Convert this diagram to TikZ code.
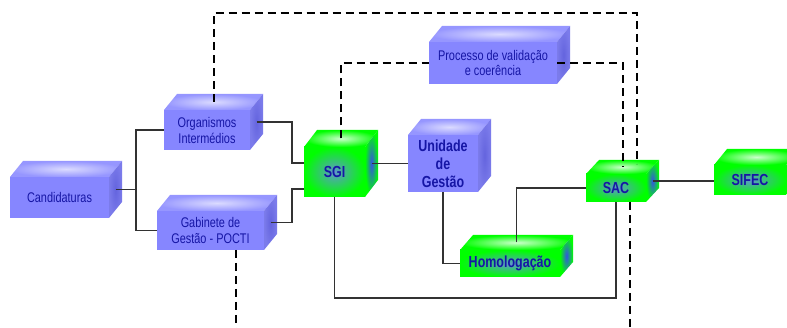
\documentclass[tikz,border=0pt]{standalone}
\usepackage{fontspec}
\setmainfont{Liberation Sans}[FakeStretch=0.78]
\usetikzlibrary{calc}

\definecolor{lav}{RGB}{134,134,255}
\definecolor{lavtop}{RGB}{150,150,255}
\definecolor{lavside}{RGB}{100,100,222}
\definecolor{grn}{RGB}{0,255,0}
\definecolor{grncore}{RGB}{95,150,205}
\definecolor{ink}{RGB}{22,22,165}
\definecolor{wire}{RGB}{50,50,50}

\tikzset{
  face front/.style={outer sep=0pt, inner sep=0pt, align=center, text=ink},
  lav front/.style={face front, fill=lav},
  grn front/.style={face front, inner color=grncore, outer color=grn},
  lav top/.style={inner color=white!70!lav, outer color=lavtop},
  grn top/.style={inner color=white!80!grn, outer color=grn},
  lav side/.style={inner color=lavside, outer color=lav!92!black},
  grn side/.style={inner color=blue!45!grncore, outer color=grn},
  regtext/.style={font=\fontsize{14}{16}\selectfont},
  boldtext/.style={font=\fontsize{16}{18}\selectfont\bfseries},
  conn/.style={draw=wire, line width=1.2pt},
  dashln/.style={draw=black, line width=2pt, dash pattern=on 8pt off 5pt},
}

% Box with a front face, a top face and a right face.
% #1 name, #2 palette, #3 font style, #4 x, #5 y, #6 width, #7 height, #8 depth, #9 text
\newcommand\cuboid[9]{%
  \node[#2 front, #3, minimum width=#6pt, minimum height=#7pt] (#1) at (#4,#5) {#9};
  \path[#2 top] (#1.north west) -- ++(13pt,#8pt) -- ([shift={(13pt,#8pt)}]#1.north east)
     -- (#1.north east) -- cycle;
  \path[#2 side] (#1.north east) -- ++(13pt,#8pt) -- ([shift={(13pt,#8pt)}]#1.south east)
     -- (#1.south east) -- cycle;
  \coordinate (#1-top) at ([shift={(6.5pt,0.5*#8pt)}]#1.north);
  \coordinate (#1-side) at ([shift={(6.5pt,0.5*#8pt)}]#1.east);
}

\begin{document}
\begin{tikzpicture}[x=1pt, y=-1pt]
\useasboundingbox (0,0) rectangle (787,328);
\clip (0,0) rectangle (787,328);

% boxes
\cuboid{cand}{lav}{regtext}{59.5}{197.5}{99}{41}{16}{Candidaturas}
\cuboid{org}{lav}{regtext}{207}{130}{86}{40}{16}{Organismos\\Intermédios}
\cuboid{gab}{lav}{regtext}{210.5}{230.5}{107}{39}{16}{Gabinete de\\Gestão - POCTI}
\cuboid{sgi}{grn}{boldtext}{334.5}{172}{61}{50}{17}{SGI}
\cuboid{ug}{lav}{boldtext}{443}{163.5}{70}{57}{16}{Unidade\\de\\Gestão}
\cuboid{proc}{lav}{regtext}{493}{63}{128}{42}{16}{Processo de validação\\e coerência}
\cuboid{hom}{grn}{boldtext}{510}{263.5}{100}{27}{15}{Homologação}
\cuboid{sac}{grn}{boldtext}{616}{188}{60}{28}{14}{SAC}
\cuboid{sifec}{grn}{boldtext}{750}{180}{72}{30}{16}{SIFEC}

% routing helpers
\coordinate (jx) at (136,180);
\coordinate (sgi-a) at ([yshift=9pt]sgi.west);
\coordinate (sgi-b) at ([yshift=-17pt]sgi.west);
\coordinate (lowrun) at (0,298);
\coordinate (topy) at (0,13);
\coordinate (bottomy) at (0,335);
\coordinate (sacA) at ([shift={(14pt,3pt)}]sac-top);
\coordinate (sacB) at ([xshift=14pt]sac.south);
\coordinate (gabB) at ([xshift=25.5pt]gab.south);

% solid connectors
\draw[conn] (cand-side) -- (cand-side -| jx);
\draw[conn] (org.west) -| (jx) |- (gab.west);
\draw[conn] (org-side) -| ([xshift=-12pt]sgi-a) -- (sgi-a);
\draw[conn] (gab-side) -| ([xshift=-12pt]sgi-b) -- (sgi-b);
\draw[conn] (sgi-side) -- (sgi-side -| ug.west);
\draw[conn] (ug.south) |- (hom.west);
\draw[conn] (hom-top) |- (sac.west);
\draw[conn] (sgi.south) |- (sac.south |- lowrun) -- (sac.south);
\draw[conn] (sac-side) -- (sac-side -| sifec.west);

% dashed connectors
\draw[dashln] (org-top) |- (sacA |- topy) -- (sacA);
\draw[dashln] (sgi-top) |- (proc.west);
\draw[dashln] (proc.east) -| (sac-top);
\draw[dashln] (sacB) -- (sacB |- bottomy);
\draw[dashln] (gabB) -- (gabB |- bottomy);
\end{tikzpicture}
\end{document}
